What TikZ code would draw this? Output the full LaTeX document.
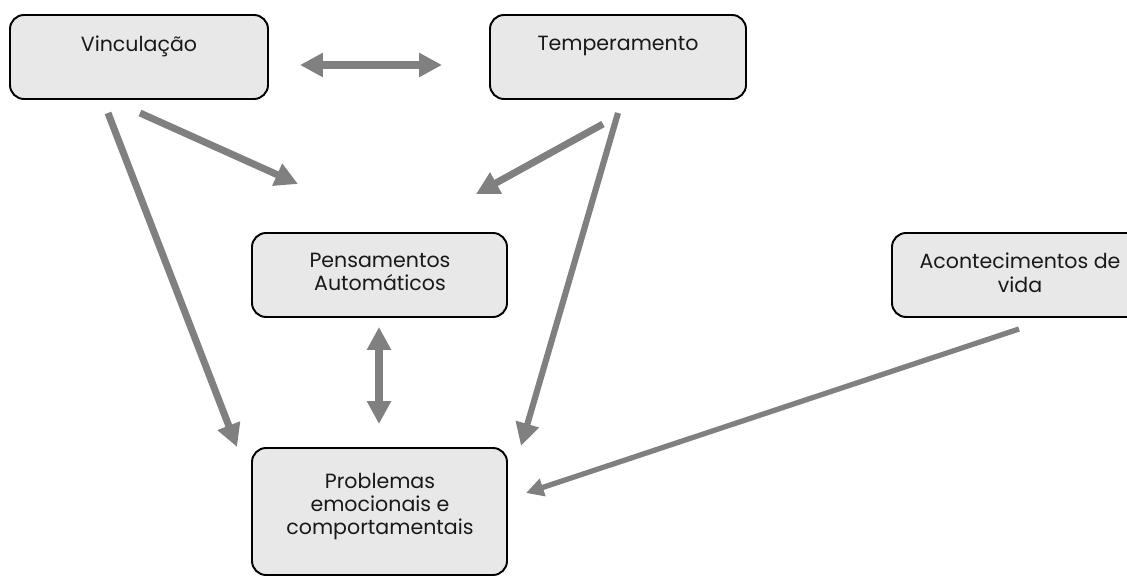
\documentclass[tikz,border=0pt]{standalone}
\usepackage{fontspec}
\setmainfont{Poppins}
\usetikzlibrary{arrows.meta}
\usetikzlibrary{fit}
\definecolor{caixacinza}{RGB}{232,232,232}
\definecolor{setacinza}{RGB}{128,128,128}
\tikzset{
  caixa/.style={draw=black, line width=1.1pt, fill=caixacinza, rounded corners=8pt, inner sep=0pt},
  texto/.style={anchor=north, align=center, inner sep=0pt, text=black!90,
    font=\fontsize{11.7}{13.2}\selectfont},
  seta/.style={draw=setacinza, line width=4pt, -{Triangle[length=13pt,width=13pt]}},
  setafina/.style={draw=setacinza, line width=3pt, -{Triangle[length=10pt,width=10pt]}},
  setadupla/.style={draw=setacinza, line width=4pt,
    {Triangle[length=13pt,width=13pt]}-{Triangle[length=13pt,width=13pt]}},
}

\begin{document}
\begin{tikzpicture}[x=0.02cm, y=-0.02cm]
\useasboundingbox (0,0) rectangle (1127,577);
\clip (0,0) rectangle (1127,577);

% caixas
\node [caixa, fit={(10,15) (268,99)}] (vinc) {};
\node [caixa, fit={(490,15) (746,99)}] (temp) {};
\node [caixa, fit={(252,233) (507,317)}] (pens) {};
\node [caixa, fit={(892,233) (1150,317)}] (acon) {};
\node [caixa, fit={(252,448) (507,575)}] (prob) {};

\node [texto] (vinct) at (139,36) {Vinculação};
\node [texto] (tempt) at (618,36) {Temperamento};
\node [texto] (penst) at (380,253) {Pensamentos\\Automáticos};
\node [texto] (acont) at (1020,253) {Acontecimentos de\\vida};
\node [texto] (probt) at (380,473) {Problemas\\emocionais e\\comportamentais};

% pontas das setas
\coordinate (vt1) at (300,65);  \coordinate (vt2) at (442,65);
\coordinate (vp1) at (140,113); \coordinate (vp2) at (298,184);
\coordinate (tp1) at (603,124); \coordinate (tp2) at (476,194);
\coordinate (vr1) at (108,113); \coordinate (vr2) at (237,447);
\coordinate (tr1) at (618,113); \coordinate (tr2) at (521,446);
\coordinate (pr1) at (379,327); \coordinate (pr2) at (379,424);
\coordinate (ar1) at (1019,329); \coordinate (ar2) at (526,493);

\draw [setadupla] (vt1) -- (vt2);
\draw [seta] (vp1) -- (vp2);
\draw [seta] (tp1) -- (tp2);
\draw [seta] (vr1) -- (vr2);
\draw [seta, line width=3.5pt] (tr1) -- (tr2);
\draw [setadupla] (pr1) -- (pr2);
\draw [setafina] (ar1) -- (ar2);
\end{tikzpicture}
\end{document}
